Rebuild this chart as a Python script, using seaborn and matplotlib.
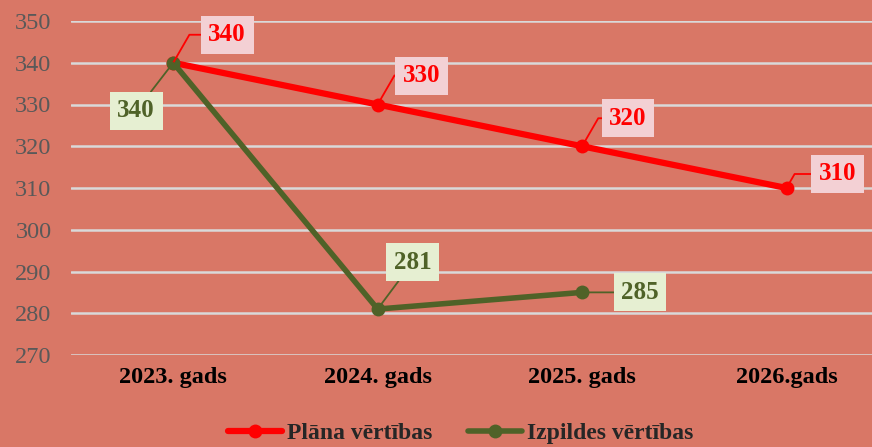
import matplotlib
matplotlib.use("Agg")
import matplotlib.pyplot as plt
import pandas as pd
import seaborn as sns

gadi = ['2023. gads', '2024. gads', '2025. gads', '2026.gads']
plana = [340, 330, 320, 310]
izpildes = [340, 281, 285]

# nobīdes etiķetēm (pikseļos)
plana_nobides = [(54, 28), (44, 29), (46, 28), (51, 14)]
izpildes_nobides = [(-37, -48), (35, 47), (58, 0)]

fons = '#D97766'
sarkans = '#FF0000'
zals = '#4F6228'

sns.set_style('white')
plt.rcParams['font.family'] = ['Liberation Serif', 'DejaVu Serif']

df_plana = pd.DataFrame({'x': range(len(plana)), 'y': plana})
df_izp = pd.DataFrame({'x': range(len(izpildes)), 'y': izpildes})

fig = plt.figure(figsize=(8.72, 4.47), dpi=100, facecolor=fons)
ax = fig.add_axes([71 / 872, 1 - 355 / 447, 1 - 71 / 872, (355 - 21) / 447])
ax.set_facecolor(fons)

sns.lineplot(data=df_plana, x='x', y='y', ax=ax, color=sarkans, linewidth=4.5,
             marker='o', markersize=10, markeredgewidth=0, label='Plāna vērtības')
sns.lineplot(data=df_izp, x='x', y='y', ax=ax, color=zals, linewidth=4,
             marker='o', markersize=10, markeredgewidth=0, label='Izpildes vērtības')

ax.set_ylim(270, 350)
ax.set_xlim(-0.5, (872 - 173) / 204.5)
ax.set_yticks(range(270, 351, 10))
ax.set_xticks(range(len(gadi)))
ax.set_xticklabels(gadi, fontsize=17.5, fontweight='bold', color='black')
ax.tick_params(axis='y', labelsize=17.5, labelcolor='#595959', length=0, pad=14)
ax.tick_params(axis='x', length=0, pad=9)
ax.set_xlabel('')
ax.set_ylabel('')
ax.grid(axis='y', color='#D9D9D9', linewidth=1.8)
ax.set_axisbelow(True)
for s in ax.spines.values():
    s.set_visible(False)

# datu etiķetes
for i, (v, off) in enumerate(zip(plana, plana_nobides)):
    ax.annotate(str(v), xy=(i, v), xytext=off, textcoords='offset pixels',
                ha='center', va='center', fontsize=18, fontweight='bold', color=sarkans,
                bbox=dict(boxstyle='square,pad=0.3', fc='#F3D0D4', ec='none'),
                arrowprops=dict(arrowstyle='-', color=sarkans, lw=1.3,
                                connectionstyle='angle,angleA=180,angleB=60',
                                shrinkA=0, shrinkB=0))
for i, (v, off) in enumerate(zip(izpildes, izpildes_nobides)):
    ax.annotate(str(v), xy=(i, v), xytext=off, textcoords='offset pixels',
                ha='center', va='center', fontsize=18, fontweight='bold', color=zals,
                bbox=dict(boxstyle='square,pad=0.3', fc='#E6EFD2', ec='none'),
                arrowprops=dict(arrowstyle='-', color=zals, lw=1.3,
                                shrinkA=0, shrinkB=0))

ax.get_legend().remove()
h, l = ax.get_legend_handles_labels()
fig.legend(h, l, loc='center', bbox_to_anchor=(0.528, 0.03), ncol=2, frameon=False,
           prop={'size': 17, 'weight': 'bold'}, handlelength=2.3, columnspacing=1.5,
           handletextpad=0.2)

fig.savefig('out.png', dpi=100, facecolor=fons)
